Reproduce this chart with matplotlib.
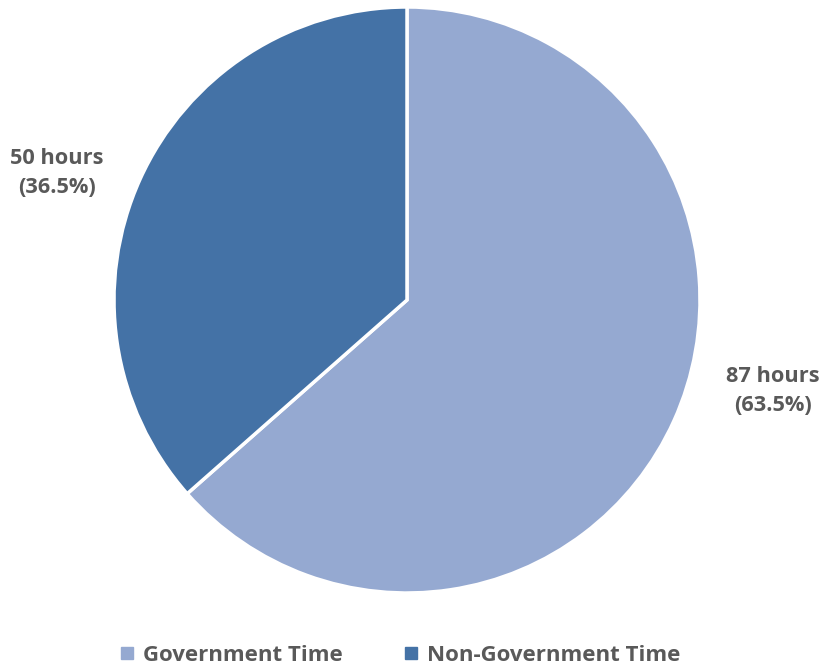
import matplotlib
matplotlib.use("Agg")
import matplotlib.pyplot as plt
from matplotlib.lines import Line2D

categories = ["Government Time", "Non-Government Time"]
hours = [87, 50]
percents = [63.5, 36.5]
colors = ["#95A9D1", "#4472A6"]
text_color = "#595959"

plt.rcParams["font.family"] = ["Open Sans", "DejaVu Sans"]

W, H = 829, 670
fig = plt.figure(figsize=(W / 100, H / 100), dpi=100)
cx, cy, r = 407, 300, 293
ax = fig.add_axes([(cx - r) / W, (H - cy - r) / H, 2 * r / W, 2 * r / H])

ax.pie(hours, colors=colors, startangle=90, counterclock=False,
       radius=1.0, wedgeprops=dict(edgecolor="white", linewidth=2.5))
ax.set_xlim(-1, 1)
ax.set_ylim(-1, 1)
ax.set_aspect("equal")
ax.axis("off")

label_pos = [(1.249, -0.31), (-1.196, 0.435)]
for h, p, (x, y) in zip(hours, percents, label_pos):
    ax.text(x, y, f"{h} hours\n({p}%)", ha="center", va="center",
            fontsize=15.7, fontweight="bold", color=text_color,
            linespacing=1.5, clip_on=False)

handles = [Line2D([0], [0], marker="s", linestyle="none", markersize=8,
                  markerfacecolor=c, markeredgecolor=c) for c in colors]
fig.legend(handles, categories, loc="center", ncol=2,
           bbox_to_anchor=(0.4817, 0.022), frameon=False,
           prop=dict(size=16, weight="bold"), labelcolor=text_color,
           handletextpad=0.3, columnspacing=2.7, handlelength=0.8)

fig.savefig("out.png", dpi=100)
